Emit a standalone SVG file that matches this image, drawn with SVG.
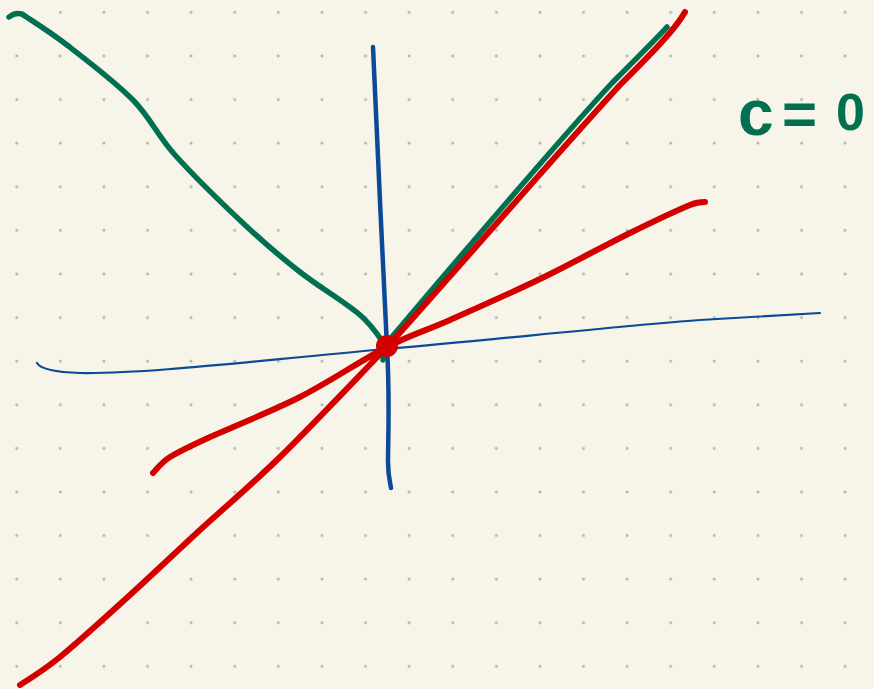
<svg xmlns="http://www.w3.org/2000/svg" width="874" height="689" viewBox="0 0 874 689">
<style>
.pen{fill:none;stroke-linecap:round;stroke-linejoin:round}
.green{stroke:#007050;stroke-width:5.5}
.blue{stroke:#0a4a96}
.red{stroke:#d40000;stroke-width:6}
.lbl{font-family:"Liberation Sans",Arial,sans-serif;font-weight:bold;fill:#007050}
</style>
<defs>
<pattern id="dots" patternUnits="userSpaceOnUse" x="-5.1" y="-9.5" width="43.6" height="43.6">
<circle cx="21.8" cy="21.8" r="1.5" fill="#b4b1a8"/>
</pattern>
</defs>
<rect width="874" height="689" fill="#f7f5ea"/>
<rect width="874" height="689" fill="url(#dots)"/>
<g id="curves">
<path class="pen blue" stroke-width="2.2" d="M37,363 C40,368 50,372 80,373 C150,374 260,360 387,349 C500,339 620,326 700,320 C750,317 790,315 820,313"/>
<path class="pen blue" stroke-width="4.5" d="M373,47 C377,120 382,260 387,347 C390,400 388,440 388,462 C388,475 390,482 391,488"/>
<path class="pen green" d="M9,17 Q15,12 22,14 C29.5,19.2 48.5,30.7 67,45 C85.5,59.3 115,81.7 133,100 C151,118.3 156.3,134.2 175,155 C193.7,175.8 224.2,205.5 245,225 C265.8,244.5 280.8,257 300,272 C319.2,287 345.8,302.8 360,315 C374.2,327.2 380.8,340 385,345 L383,360"/>
<path class="pen green" d="M385,345 C425,298 550,150 612,83 C640,55 660,35 667,27"/>
<path class="pen red" d="M20,685 C26.7,680.3 41.7,672 60,657 C78.3,642 106.7,616.2 130,595 C153.3,573.8 175,553 200,530 C225,507 248.8,487.5 280,457 C311.2,426.5 356.3,378.7 387,347 C430,300 560,150 620,85 C650,55 675,30 685,12"/>
<path class="pen red" d="M153,473 C155.8,470.3 160.5,463 170,457 C179.5,451 188.3,447 210,437 C231.7,427 270.5,412 300,397 C329.5,382 362,359.8 387,347 C412,334.2 424.5,331.3 450,320 C475.5,308.7 510,293.5 540,279 C570,264.5 605,245.3 630,233 C655,220.7 677.5,210.2 690,205 C697,202 700,202 705,202"/>
<circle cx="387" cy="346" r="11" fill="#d40000"/>
</g>
<g id="label">
<text class="lbl"><tspan x="738" y="135" font-size="64">c</tspan><tspan x="782" y="134" font-size="60">=</tspan><tspan x="836" y="130" font-size="52">0</tspan></text>
</g>
</svg>
